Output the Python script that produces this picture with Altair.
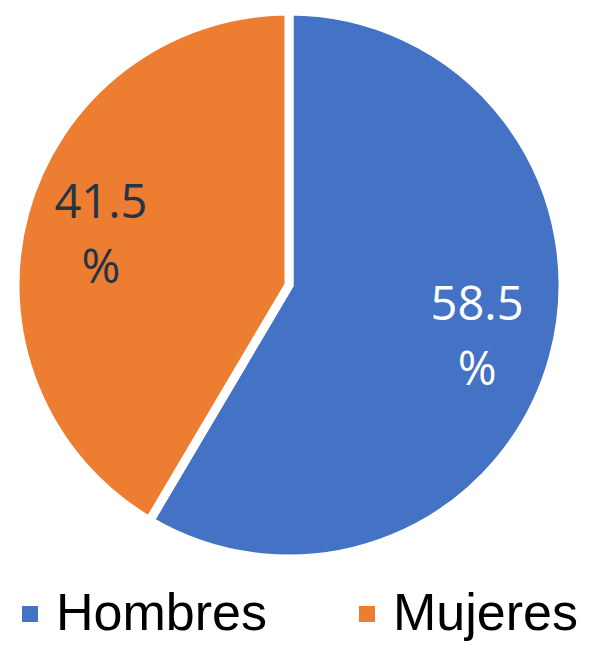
import altair as alt
import pandas as pd

categories = ["Hombres", "Mujeres"]
values = [58.5, 41.5]
labels = ["58.5\n%", "41.5\n%"]
colors = ["#4472C4", "#ED7D31"]
label_colors = ["#FFFFFF", "#243447"]
order = [0, 1]

df = pd.DataFrame({
    "cat": categories,
    "value": values,
    "label": labels,
    "lcolor": label_colors,
    "ord": order,
})

CX, CY = 281, 277

base = alt.Chart(df).encode(
    theta=alt.Theta("value:Q", stack=True),
    order=alt.Order("ord:Q"),
)

arc = base.mark_arc(outerRadius=274, stroke="white", strokeWidth=9).encode(
    x=alt.value(CX),
    y=alt.value(CY),
    color=alt.Color(
        "cat:N",
        scale=alt.Scale(domain=categories, range=colors),
        sort=categories,
        legend=alt.Legend(
            title=None,
            orient="none",
            direction="horizontal",
            legendX=-4,
            legendY=580,
            symbolType="square",
            symbolSize=256,
            symbolStrokeWidth=0,
            labelFont="Liberation Sans",
            labelFontSize=52,
            labelColor="#000000",
            labelOffset=0,
            labelLimit=400,
            columnPadding=74,
        ),
    ),
)

text = base.mark_text(
    radius=195,
    font="Open Sans",
    fontSize=47,
    lineBreak="\n",
    lineHeight=65,
    align="center",
    baseline="middle",
    dy=-30,
).encode(
    x=alt.value(CX),
    y=alt.value(CY),
    text="label:N",
    color=alt.Color("lcolor:N", scale=None),
)

chart = alt.layer(arc, text).properties(
    width=584, height=638, autosize="none", padding=0
).configure_view(stroke=None)

chart.save("out.html", embed_options={"renderer": "svg", "actions": False})
